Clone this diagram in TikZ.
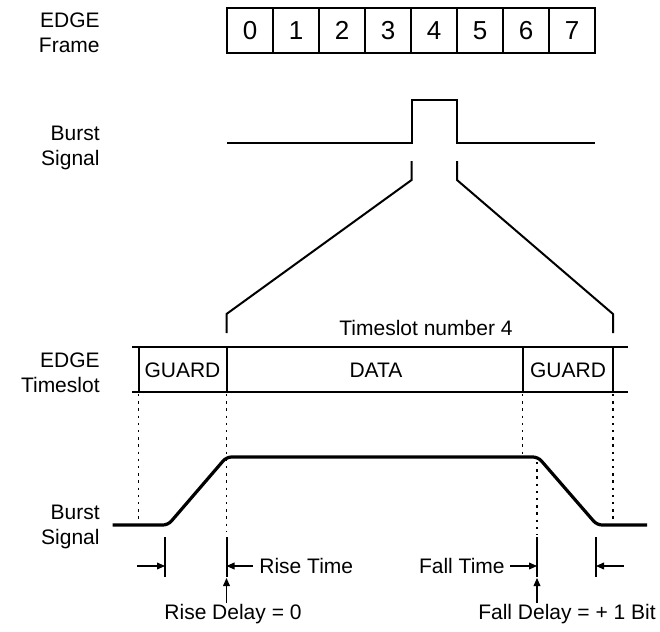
\documentclass[tikz,border=0pt]{standalone}
\usepackage{fontspec}
\setmainfont{Liberation Sans}
\usetikzlibrary{arrows.meta}

\tikzset{
  lbl/.style={font=\fontsize{10.5}{12.5}\selectfont, align=right, anchor=east, inner sep=0pt},
  txt/.style={font=\fontsize{10.5}{12.5}\selectfont, inner sep=0pt},
  slotbox/.style={draw, line width=1pt, minimum width=23pt, minimum height=22.5pt,
    inner sep=0pt, font=\fontsize{13}{14}\selectfont},
  wave/.style={line width=1pt},
  band/.style={line width=1pt},
  guide/.style={line width=0.8pt, dash pattern=on 1.2pt off 2.4pt},
  ramp/.style={line width=1.6pt, rounded corners=2.5pt},
  tickmark/.style={line width=1pt},
  dim/.style={line width=0.6pt, -{Triangle[length=4pt,width=3.4pt]}}
}

\begin{document}
\begin{tikzpicture}[x=0.5pt,y=-0.5pt]
  \useasboundingbox (0,0) rectangle (660,632);

  % row labels
  \node[lbl] (frameLbl) at (100,33) {EDGE\\Frame};
  \node[lbl] (burstLbl) at (100,148) {Burst\\Signal};
  \node[lbl] (slotLbl) at (100,373) {EDGE\\Timeslot};
  \node[lbl] (rampLbl) at (100,527) {Burst\\Signal};

  % frame of eight timeslots
  \foreach \i in {0,...,7}
    \node[slotbox] (f\i) at ({250+46*\i},30.5) {\i};

  % burst in slot 4
  \draw[wave] (227,143) -- (411.6,143) -- (411.6,99.5) -- (457,99.5)
    -- (457,143) -- (595,143);

  % zoom lines
  \coordinate (zl) at (226.5,333);
  \coordinate (zr) at (613,333);
  \draw[wave] (411.6,161) -- (411.6,180) -- (226.5,314) -- (zl);
  \draw[wave] (457,161) -- (457,180) -- (613,314) -- (zr);

  % timeslot band
  \node[txt] (slotNo) at (426,328) {Timeslot number 4};
  \draw[band] (132,347) -- (628,347) (132,392) -- (628,392);
  \foreach \x in {138.5,226.5,522.5,613}
    \draw[band] (\x,347) -- (\x,392);
  \node[txt] (guardA) at (182.5,370) {GUARD};
  \node[txt] (data) at (376,370) {DATA};
  \node[txt] (guardB) at (568,370) {GUARD};

  % dotted guides
  \draw[guide] (138.5,394) -- (138.5,522);
  \draw[guide] (226.5,394) -- (226.5,532);
  \draw[guide] (522.5,394) -- (522.5,455);
  \draw[guide] (536.7,462) -- (536.7,535);
  \draw[guide] (613,394) -- (613,522);

  % ramped burst
  \draw[ramp] (112.7,525) -- (168,525) -- (226.5,457) -- (538,457)
    -- (597,525) -- (647,525);

  % timing marks
  \foreach \x/\n in {165/t1,226.5/t2,537/t3,596/t4} {
    \draw[tickmark] (\x,537) -- (\x,577);
    \coordinate (\n) at (\x,566);
    \coordinate (\n u) at (\x,578);
  }
  \node[txt,anchor=west] (riseT) at (259,566) {Rise Time};
  \node[txt,anchor=east] (fallT) at (505,566) {Fall Time};
  \draw[dim] (137,566) -- (t1);
  \draw[dim] ([xshift=-3pt]riseT.west) -- (t2);
  \draw[dim] ([xshift=2.5pt]fallT.east) -- (t3);
  \draw[dim] (624,566) -- (t4);

  \node[txt] (riseD) at (233,614) {Rise Delay = 0};
  \node[txt] (fallD) at (567,614) {Fall Delay = + 1 Bit};
  \draw[dim] (226.5,603) -- (t2u);
  \draw[dim] (537,603) -- (t3u);
\end{tikzpicture}
\end{document}
